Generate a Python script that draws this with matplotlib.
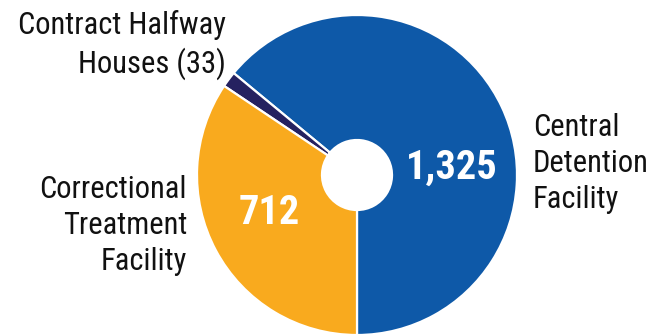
import matplotlib
matplotlib.use('Agg')
import matplotlib.pyplot as plt

labels = ['Central\nDetention\nFacility', 'Contract Halfway\nHouses (33)', 'Correctional\nTreatment\nFacility']
values = [1325, 33, 712]
colors = ['#0E59A8', '#252160', '#F9AA1E']
value_text = ['1,325', '', '712']

W, H = 664, 335
fig = plt.figure(figsize=(W / 100, H / 100), dpi=100)
ax = fig.add_axes([0, 0, 1, 1])

cx, cy, r, hole = 357, H - 175, 160, 35

ax.pie(values, colors=colors, startangle=-90, counterclock=True,
       center=(cx, cy), radius=r, frame=True,
       wedgeprops=dict(width=r - hole, edgecolor='white', linewidth=1.6))
ax.set_xlim(0, W)
ax.set_ylim(0, H)
ax.set_aspect('equal')
ax.axis('off')

font = ['Roboto Condensed', 'DejaVu Sans']
kw = dict(family=font, fontsize=22, color='#111111', linespacing=1.3)

ax.text(533, H - 113, labels[0], ha='left', va='top', **kw)
ax.text(226, H - 10, labels[1], ha='right', va='top', **kw)
ax.text(187, H - 175, labels[2], ha='right', va='top', **kw)

vkw = dict(family=font, fontsize=29, fontweight='bold', color='white',
           ha='center', va='center')
ax.text(452, H - 168, value_text[0], **vkw)
ax.text(269, H - 213, value_text[2], **vkw)

fig.savefig('out.png', dpi=100)
